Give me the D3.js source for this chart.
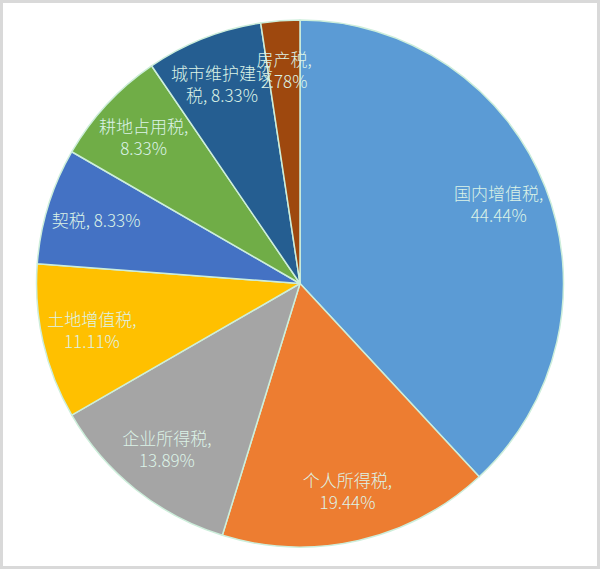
<!DOCTYPE html>
<html lang="zh-cn">
  <head>
    <meta charset="utf-8">
    <title>税收构成</title>
    <script src="https://d3js.org/d3.v7.min.js"></script>
    <style>
      html, body { margin: 0; padding: 0; background: #fff; }
      svg { display: block; }
      .rotulo { font-family: "Noto Sans CJK SC", "Noto Sans", sans-serif; font-size: 17px; font-weight: 300; fill: #dcf3e7; }
    </style>
  </head>
  <body>
    <div id="grafico"></div>
    <script>
      // dados
      const categorias = ['国内增值税', '个人所得税', '企业所得税', '土地增值税', '契税', '耕地占用税', '城市维护建设税', '房产税']
      const valores = [44.44, 19.44, 13.89, 11.11, 8.33, 8.33, 8.33, 2.78]
      const cores = ['#5b9bd5', '#ed7d31', '#a5a5a5', '#ffc000', '#4472c4', '#70ad47', '#255e91', '#9e480e']

      const largura = 600,
            altura = 569,
            centro = { x: 300, y: 283.5 },
            raio = 263.5

      const dados = categorias.map((c, i) => ({ nome: c, valor: valores[i], cor: cores[i] }))

      const tela = d3.select('#grafico')
        .append('svg')
          .attr('width', largura)
          .attr('height', altura)

      // moldura cinza
      tela.append('rect')
        .attr('x', 1.5).attr('y', 1.5)
        .attr('width', largura - 3).attr('height', altura - 3)
        .attr('fill', '#fff')
        .attr('stroke', '#d9d9d9')
        .attr('stroke-width', 3)

      const g = tela.append('g')
        .attr('transform', `translate(${centro.x}, ${centro.y})`)

      const pizza = d3.pie().sort(null).value(d => d.valor)
      const arco = d3.arc().innerRadius(0).outerRadius(raio)
      const arcoRotulo = d3.arc().innerRadius(raio * 0.81).outerRadius(raio * 0.81)

      const fatias = pizza(dados)

      g.selectAll('path')
        .data(fatias)
        .join('path')
          .attr('d', arco)
          .attr('fill', d => d.data.cor)
          .attr('stroke', '#cdeedb')
          .attr('stroke-width', 1.5)
          .attr('stroke-linejoin', 'round')

      const fmt = v => v.toFixed(2) + '%'

      function linhas(d) {
        const nome = d.nome, pct = fmt(d.valor)
        if (nome.length <= 2) return [`${nome}, ${pct}`]
        if (nome.length > 6) return [nome.slice(0, 6), `${nome.slice(6)}, ${pct}`]
        return [nome + ',', pct]
      }

      const rotulos = g.selectAll('text')
        .data(fatias)
        .join('text')
          .attr('class', 'rotulo')
          .attr('text-anchor', 'middle')
          .attr('transform', d => `translate(${arcoRotulo.centroid(d)})`)

      rotulos.each(function (d) {
        const ls = linhas(d.data)
        const t = d3.select(this)
        ls.forEach((l, i) => {
          t.append('tspan')
            .attr('x', 0)
            .attr('y', (i - (ls.length - 1) / 2) * 22)
            .attr('dy', '0.35em')
            .text(l)
        })
      })
    </script>
  </body>
</html>
